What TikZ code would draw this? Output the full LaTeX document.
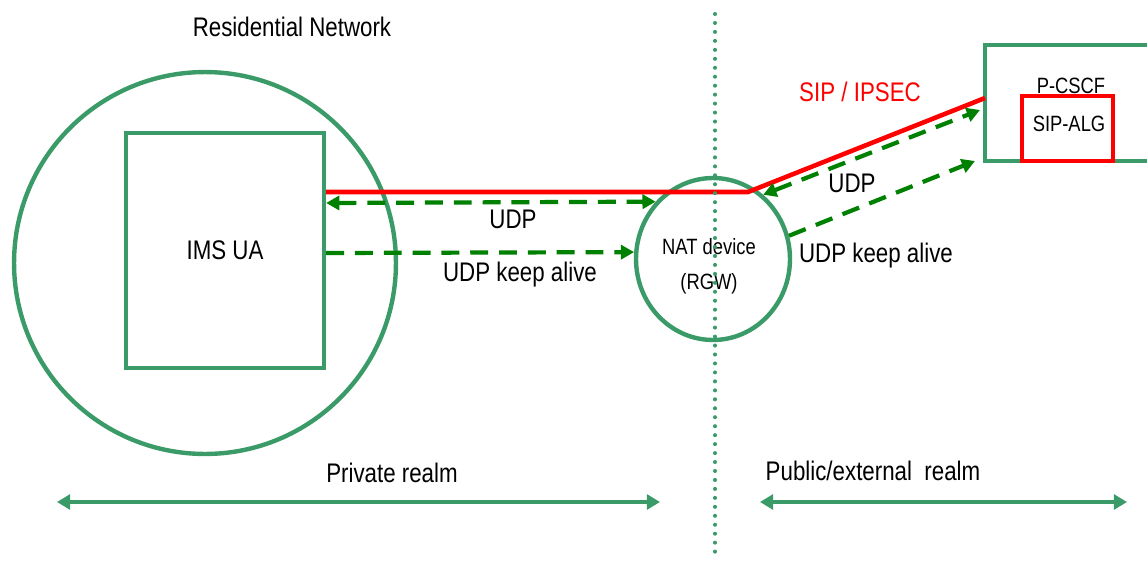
\documentclass[tikz,border=0pt]{standalone}
\usepackage{fontspec}
\setmainfont{Liberation Sans}[FakeStretch=0.83]
\usepackage{xcolor}
\usepackage{tikz}
\usetikzlibrary{shapes,shapes.geometric}
\usetikzlibrary{calc,arrows,arrows.meta,positioning}
\definecolor{realmgreen}{RGB}{58,155,104}
\definecolor{flowgreen}{RGB}{0,128,0}
\definecolor{sipred}{RGB}{255,0,0}
\tikzset{
  zone/.style={circle, draw=realmgreen, line width=2.5pt, minimum size=7.64cm, inner sep=0pt},
  uabox/.style={rectangle, draw=realmgreen, line width=2.5pt, minimum width=3.96cm, minimum height=4.7cm, font=\fontsize{15.3}{18}\selectfont},
  natnode/.style={ellipse, draw=realmgreen, line width=2.5pt, minimum width=3.08cm, minimum height=3.24cm, inner sep=0pt},
  proxybox/.style={rectangle, draw=realmgreen, line width=2.6pt, minimum width=3.8cm, minimum height=2.32cm},
  algbox/.style={rectangle, draw=sipred, line width=2.8pt, minimum width=1.82cm, minimum height=1.3cm},
  biglbl/.style={inner sep=0pt, font=\fontsize{15.3}{18}\selectfont},
  smalllbl/.style={inner sep=0pt, font=\fontsize{12.6}{15}\selectfont},
  sipline/.style={draw=sipred, line width=2.6pt},
  udpflow/.style={draw=flowgreen, line width=2.4pt, dash pattern=on 10.2pt off 6.2pt,
      arrows={-Triangle[length=7.5pt, width=8pt]}},
  divider/.style={draw=realmgreen, line width=2.3pt, line cap=round, dash pattern=on 0pt off 5.1pt},
  realmarrow/.style={draw=realmgreen, line width=2.6pt,
      arrows={Triangle[length=7.5pt, width=8.5pt]-Triangle[length=7.5pt, width=8.5pt]}}
}
\begin{document}
\begin{tikzpicture}[x=0.02cm, y=-0.02cm]
  \useasboundingbox (0,0) rectangle (1147,562);
  \node[zone] (home) at (205,263) {};
  \node[uabox] (ua) at (225,250.5) {IMS UA};
  \node[natnode] (nat) at (713,259) {};
  \node[smalllbl, align=center, font=\fontsize{12.6}{19.8}\selectfont] (natlbl) at (709,266) {NAT device\\(RGW)};
  \node[proxybox] (pcscf) at (1080,103) {};
  \node[smalllbl] (pcscflbl) at (1071,86) {P-CSCF};
  \node[algbox] (alg) at (1067.5,128.5) {};
  \node[smalllbl] (alglbl) at (1069,124) {SIP-ALG};

  \node[biglbl] (resnet) at (292,27) {Residential Network};
  \node[biglbl, text=sipred] (siplbl) at (860,92) {SIP / IPSEC};
  \node[biglbl] (udpleft) at (513,219) {UDP};
  \node[biglbl] (kaleft) at (520,275) {UDP keep alive};
  \node[biglbl] (udpright) at (852,183) {UDP};
  \node[biglbl] (karight) at (876,256) {UDP keep alive};
  \node[biglbl] (privlbl) at (392,473) {Private realm};
  \node[biglbl] (publbl) at (873,471) {Public/external\ \ realm};

  \coordinate (bend) at (748,192);
  \coordinate (sipin) at (985,98);
  \coordinate (udpend) at (980,110);
  \coordinate (kaend) at (975,161);
  \draw[sipline] (ua.east |- bend) -- (bend) -- (sipin);
  \draw[udpflow, arrows={Triangle[length=7.5pt, width=8pt]-Triangle[length=7.5pt, width=8pt]}] (ua.east |- 0,203) -- (nat.135);
  \draw[udpflow] (ua.east |- 0,253) -- (nat.175);
  \draw[udpflow, arrows={Triangle[length=7.5pt, width=8pt]-Triangle[length=7.5pt, width=8pt]}] (nat.52) -- (udpend);
  \draw[udpflow] (nat.17) -- (kaend);

  \coordinate (divtop) at (715,14);
  \coordinate (divbot) at (715,556);
  \draw[divider] (divtop) -- (divbot);

  \coordinate (privl) at (57,502);
  \coordinate (privr) at (660,502);
  \coordinate (publ) at (760,502);
  \coordinate (pubr) at (1127,502);
  \draw[realmarrow] (privl) -- (privr);
  \draw[realmarrow] (publ) -- (pubr);
\end{tikzpicture}
\end{document}
